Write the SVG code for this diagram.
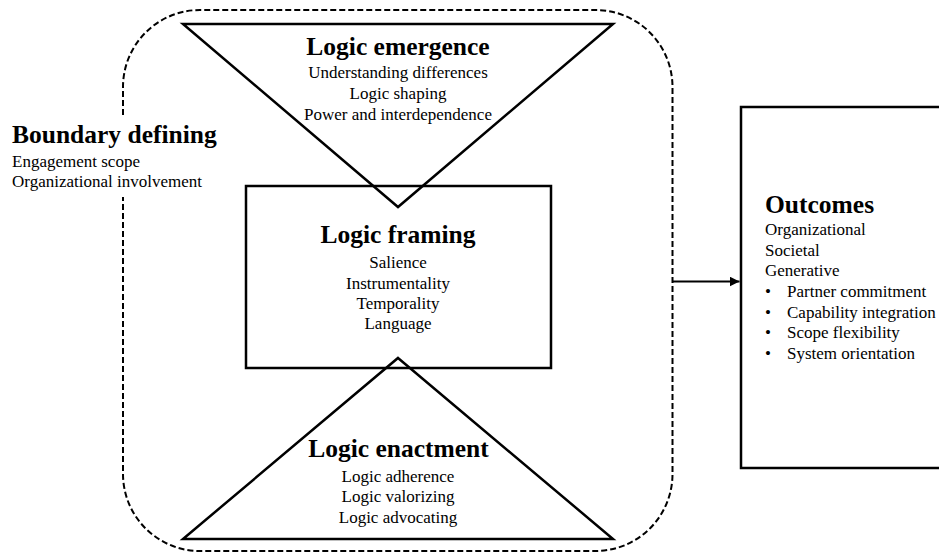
<svg xmlns="http://www.w3.org/2000/svg" width="939" height="553" viewBox="0 0 939 553">
<style>
.shape{fill:none;stroke:#000;stroke-width:2.5;stroke-linejoin:miter}
.dash{fill:none;stroke:#000;stroke-width:2;stroke-dasharray:6 3}
.h{font-family:"Liberation Serif","Times New Roman",serif;font-weight:bold;font-size:25.5px;fill:#000}
.t{font-family:"Liberation Serif","Times New Roman",serif;font-size:17px;fill:#000}
.c{text-anchor:middle}
</style>
<defs>
<marker id="arr" markerWidth="10" markerHeight="10" refX="10" refY="5" orient="auto" markerUnits="userSpaceOnUse">
<path d="M0,0 L10,5 L0,10 Z" fill="#000"/>
</marker>
</defs>
<rect width="939" height="553" fill="#fff"/>
<g id="boundary">
<path class="dash" d="M123,115 L123,87 A77,77 0 0 1 200,10 L595.5,10 A77,77 0 0 1 672.5,87 L672.5,474 A77,77 0 0 1 595.5,551 L200,551 A77,77 0 0 1 123,474 L123,197"/>
<text class="h" x="12" y="143">Boundary defining</text>
<text class="t" x="12" y="167">Engagement scope</text>
<text class="t" x="12" y="187">Organizational involvement</text>
</g>
<g id="emergence">
<path class="shape" d="M183,24 L613,24 L398,207 Z"/>
<text class="h c" x="398" y="55">Logic emergence</text>
<text class="t c" x="398" y="78">Understanding differences</text>
<text class="t c" x="398" y="99">Logic shaping</text>
<text class="t c" x="398" y="120">Power and interdependence</text>
</g>
<g id="framing">
<path class="shape" d="M246,186 L551,186 L551,368 L246,368 Z"/>
<text class="h c" x="398" y="243">Logic framing</text>
<text class="t c" x="398" y="268">Salience</text>
<text class="t c" x="398" y="289">Instrumentality</text>
<text class="t c" x="398" y="309">Temporality</text>
<text class="t c" x="398" y="329">Language</text>
</g>
<g id="enactment">
<path class="shape" d="M398,358 L613,539 L183,539 Z"/>
<text class="h c" x="398.5" y="457">Logic enactment</text>
<text class="t c" x="398" y="482">Logic adherence</text>
<text class="t c" x="398" y="502">Logic valorizing</text>
<text class="t c" x="398" y="523">Logic advocating</text>
</g>
<g id="outcomes">
<path class="shape" d="M950,107 L741,107 L741,468 L950,468"/>
<text class="h" x="765" y="213">Outcomes</text>
<text class="t" x="765" y="235">Organizational</text>
<text class="t" x="765" y="256">Societal</text>
<text class="t" x="765" y="276">Generative</text>
<text class="t" x="765" y="297">•</text>
<text class="t" x="787" y="297">Partner commitment</text>
<text class="t" x="765" y="318">•</text>
<text class="t" x="787" y="318">Capability integration</text>
<text class="t" x="765" y="338">•</text>
<text class="t" x="787" y="338">Scope flexibility</text>
<text class="t" x="765" y="359">•</text>
<text class="t" x="787" y="359">System orientation</text>
</g>
<g id="connectors">
<line x1="672.5" y1="281.5" x2="739.5" y2="281.5" stroke="#000" stroke-width="2" marker-end="url(#arr)"/>
</g>
</svg>
